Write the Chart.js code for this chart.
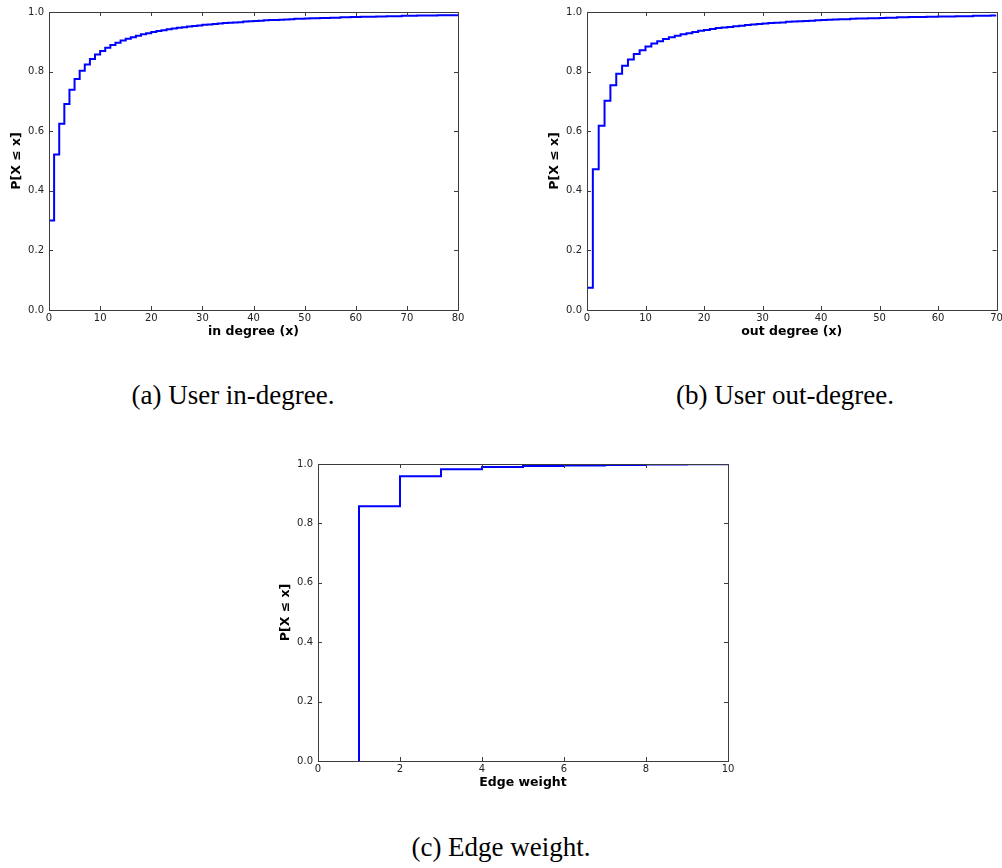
<!DOCTYPE html>
<html>
<head>
<meta charset="utf-8">
<title>Degree and edge-weight CDFs</title>
<script src="https://cdn.jsdelivr.net/npm/chart.js@4/dist/chart.umd.min.js"></script>
<style>
  html, body { margin: 0; padding: 0; background: #fff; }
  body { width: 1002px; height: 868px; position: relative; overflow: hidden; }
  .panel { position: absolute; }
  .caption {
    position: absolute; text-align: center; white-space: nowrap;
    font-family: "Liberation Serif", "DejaVu Serif", serif; font-size: 27px; line-height: 1; color: #000;
  }
</style>
</head>
<body>
<div class="panel" id="pa" style="left:0px; top:0px; width:500px; height:360px;"><canvas id="ca"></canvas></div>
<div class="panel" id="pb" style="left:538px; top:0px; width:480px; height:360px;"><canvas id="cb"></canvas></div>
<div class="panel" id="pc" style="left:269px; top:452px; width:500px; height:359px;"><canvas id="cc"></canvas></div>
<div class="caption" style="left:33px; width:400px; top:382px;">(a) User in-degree.</div>
<div class="caption" style="left:585px; width:400px; top:382px;">(b) User out-degree.</div>
<div class="caption" style="left:301px; width:400px; top:834px;">(c) Edge weight.</div>
<script>
// Empirical CDF P[X <= x], indexed by integer x
const inDegreeCdf = [
  0.300, 0.522, 0.625, 0.691, 0.739, 0.775, 0.803, 0.824, 0.842, 0.857,
  0.869, 0.880, 0.889, 0.897, 0.904, 0.910, 0.915, 0.920, 0.925, 0.929,
  0.933, 0.936, 0.939, 0.942, 0.945, 0.947, 0.949, 0.951, 0.953, 0.955,
  0.957, 0.958, 0.960, 0.961, 0.963, 0.964, 0.965, 0.966, 0.968, 0.969,
  0.970, 0.971, 0.972, 0.973, 0.973, 0.974, 0.975, 0.976, 0.977, 0.977,
  0.978, 0.979, 0.979, 0.980, 0.980, 0.981, 0.981, 0.982, 0.982, 0.983,
  0.983, 0.984, 0.984, 0.984, 0.985, 0.985, 0.986, 0.986, 0.986, 0.987,
  0.987, 0.987, 0.988, 0.988, 0.988, 0.988, 0.989, 0.989, 0.989, 0.989,
  0.990
];
const outDegreeCdf = [
  0.075, 0.472, 0.618, 0.702, 0.754, 0.793, 0.820, 0.841, 0.859, 0.872,
  0.884, 0.894, 0.902, 0.909, 0.915, 0.920, 0.925, 0.929, 0.933, 0.937,
  0.940, 0.943, 0.946, 0.948, 0.950, 0.952, 0.954, 0.956, 0.958, 0.960,
  0.961, 0.963, 0.964, 0.965, 0.967, 0.968, 0.969, 0.970, 0.971, 0.972,
  0.973, 0.974, 0.975, 0.976, 0.976, 0.977, 0.978, 0.978, 0.979, 0.979,
  0.980, 0.981, 0.981, 0.982, 0.982, 0.983, 0.983, 0.983, 0.984, 0.984,
  0.985, 0.985, 0.985, 0.986, 0.986, 0.986, 0.987, 0.987, 0.987, 0.988,
  0.988
];
const edgeWeightValues = [1, 2, 3, 4, 5, 6, 7, 8, 9, 10];
const edgeWeightCdf = [0.858, 0.959, 0.982, 0.990, 0.993, 0.995, 0.997, 0.998, 0.999, 0.999];

const yTickValues = [0.0, 0.2, 0.4, 0.6, 0.8, 1.0];
const yTitle = 'P[X \u2264 x]';

// Step series: start at (x0, 0), then one point per x value (drawn "post"-style)
function stepPoints(xs, ys) {
  const pts = [{ x: xs[0], y: 0 }];
  xs.forEach((x, i) => pts.push({ x: x, y: ys[i] }));
  return pts;
}

// Frame around the plot area plus inward tick marks on all four sides
const frameTicks = {
  id: 'frameTicks',
  afterDraw(chart) {
    const { ctx, chartArea: a, scales } = chart;
    const L = 4;
    ctx.save();
    ctx.strokeStyle = '#3c3c3c';
    ctx.lineWidth = 1;
    ctx.beginPath();
    scales.x.ticks.forEach(t => {
      const px = Math.round(scales.x.getPixelForValue(t.value)) + 0.5;
      ctx.moveTo(px, a.bottom); ctx.lineTo(px, a.bottom - L);
      ctx.moveTo(px, a.top); ctx.lineTo(px, a.top + L);
    });
    scales.y.ticks.forEach(t => {
      const py = Math.round(scales.y.getPixelForValue(t.value)) + 0.5;
      ctx.moveTo(a.left, py); ctx.lineTo(a.left + L, py);
      ctx.moveTo(a.right, py); ctx.lineTo(a.right - L, py);
    });
    ctx.stroke();
    ctx.strokeRect(Math.round(a.left) + 0.5, Math.round(a.top) + 0.5,
                   Math.round(a.right - a.left), Math.round(a.bottom - a.top));
    ctx.restore();
  }
};

const tickFont = { family: '"DejaVu Sans", sans-serif', size: 10 };
const titleFont = { family: '"DejaVu Sans", sans-serif', size: 12.5, weight: 'bold' };

function makeChart(canvasId, points, xMax, xStep, xTitle, rightPad) {
  return new Chart(document.getElementById(canvasId), {
    type: 'line',
    data: {
      datasets: [{
        data: points,
        stepped: true,
        borderColor: '#0000ff',
        borderWidth: 2,
        pointRadius: 0,
        fill: false
      }]
    },
    options: {
      responsive: true,
      maintainAspectRatio: false,
      animation: false,
      parsing: false,
      layout: { padding: { top: 12, right: rightPad, bottom: 0, left: 0 } },
      plugins: { legend: { display: false }, tooltip: { enabled: false } },
      scales: {
        x: {
          type: 'linear', min: 0, max: xMax,
          grid: { display: false, drawTicks: false }, border: { display: false },
          ticks: { stepSize: xStep, autoSkip: false, maxRotation: 0, padding: 2, color: '#222', font: tickFont },
          title: { display: true, text: xTitle, color: '#000', font: titleFont, padding: { top: 0, bottom: 20.5 } },
          afterFit(scale) { scale.height = 50; }
        },
        y: {
          type: 'linear', min: 0, max: 1,
          grid: { display: false, drawTicks: false }, border: { display: false },
          afterBuildTicks(scale) { scale.ticks = yTickValues.map(v => ({ value: v })); },
          ticks: { padding: 5, color: '#222', font: tickFont, callback: v => Number(v).toFixed(1) },
          title: { display: true, text: yTitle, color: '#000', font: titleFont, padding: { top: 9.5, bottom: 0 } },
          afterFit(scale) { scale.width = 49; }
        }
      }
    },
    plugins: [frameTicks]
  });
}

const inDegreeX = inDegreeCdf.map((_, i) => i);
const outDegreeX = outDegreeCdf.map((_, i) => i);

makeChart('ca', stepPoints(inDegreeX, inDegreeCdf), 80, 10, 'in degree (x)', 42);
makeChart('cb', stepPoints(outDegreeX, outDegreeCdf), 70, 10, 'out degree (x)', 21.5);
makeChart('cc', stepPoints(edgeWeightValues, edgeWeightCdf), 10, 2, 'Edge weight', 41);
</script>
</body>
</html>
